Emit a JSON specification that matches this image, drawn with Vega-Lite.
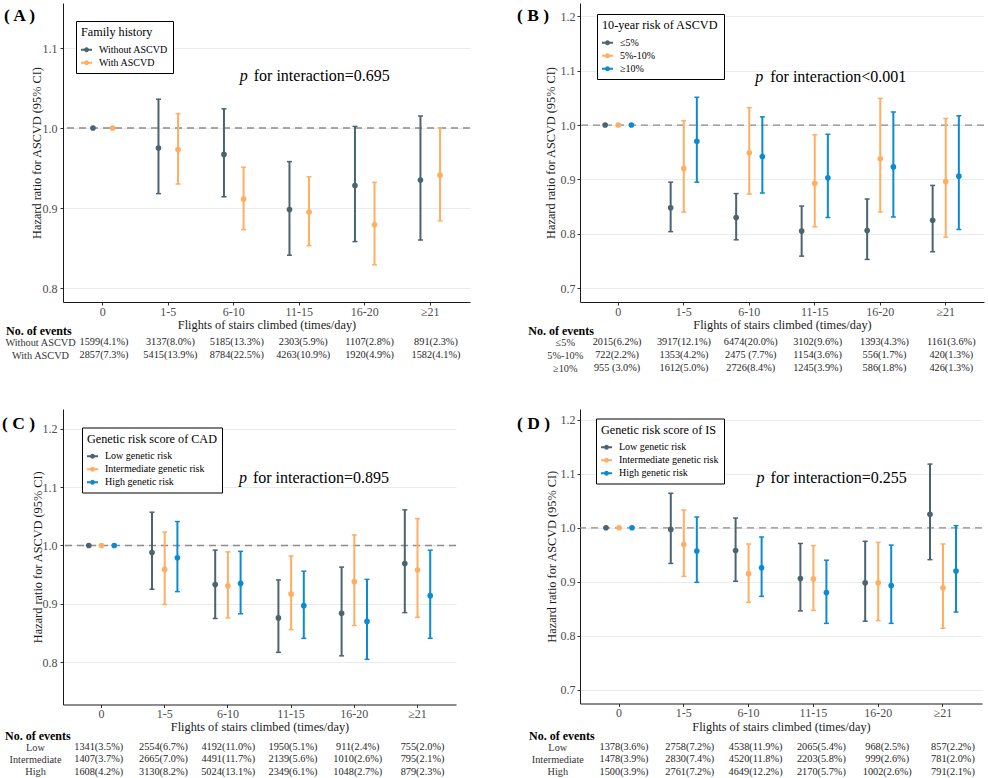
{
  "$schema": "https://vega.github.io/schema/vega-lite/v6.json",
  "autosize": "none",
  "padding": {"left": 63, "top": 3, "right": 925, "bottom": 775},
  "background": "white",
  "datasets": {
    "a": [
      {"cat": "0", "grp": "Without ASCVD", "hr": 1.0},
      {"cat": "0", "grp": "With ASCVD", "hr": 1.0},
      {"cat": "1-5", "grp": "Without ASCVD", "hr": 0.975, "lo": 0.918, "hi": 1.036},
      {"cat": "6-10", "grp": "Without ASCVD", "hr": 0.967, "lo": 0.914, "hi": 1.024},
      {"cat": "11-15", "grp": "Without ASCVD", "hr": 0.898, "lo": 0.841, "hi": 0.958},
      {"cat": "16-20", "grp": "Without ASCVD", "hr": 0.928, "lo": 0.858, "hi": 1.002},
      {"cat": "≥21", "grp": "Without ASCVD", "hr": 0.935, "lo": 0.860, "hi": 1.015},
      {"cat": "1-5", "grp": "With ASCVD", "hr": 0.973, "lo": 0.930, "hi": 1.018},
      {"cat": "6-10", "grp": "With ASCVD", "hr": 0.911, "lo": 0.873, "hi": 0.951},
      {"cat": "11-15", "grp": "With ASCVD", "hr": 0.895, "lo": 0.853, "hi": 0.939},
      {"cat": "16-20", "grp": "With ASCVD", "hr": 0.879, "lo": 0.829, "hi": 0.932},
      {"cat": "≥21", "grp": "With ASCVD", "hr": 0.941, "lo": 0.884, "hi": 1.000}
    ],
    "b": [
      {"cat": "0", "grp": "≤5%", "hr": 1.0},
      {"cat": "0", "grp": "5%-10%", "hr": 1.0},
      {"cat": "0", "grp": "≥10%", "hr": 1.0},
      {"cat": "1-5", "grp": "≤5%", "hr": 0.848, "lo": 0.804, "hi": 0.895},
      {"cat": "6-10", "grp": "≤5%", "hr": 0.830, "lo": 0.789, "hi": 0.874},
      {"cat": "11-15", "grp": "≤5%", "hr": 0.805, "lo": 0.759, "hi": 0.851},
      {"cat": "16-20", "grp": "≤5%", "hr": 0.806, "lo": 0.753, "hi": 0.864},
      {"cat": "≥21", "grp": "≤5%", "hr": 0.825, "lo": 0.767, "hi": 0.889},
      {"cat": "1-5", "grp": "5%-10%", "hr": 0.920, "lo": 0.840, "hi": 1.008},
      {"cat": "6-10", "grp": "5%-10%", "hr": 0.949, "lo": 0.873, "hi": 1.032},
      {"cat": "11-15", "grp": "5%-10%", "hr": 0.893, "lo": 0.813, "hi": 0.982},
      {"cat": "16-20", "grp": "5%-10%", "hr": 0.938, "lo": 0.840, "hi": 1.049},
      {"cat": "≥21", "grp": "5%-10%", "hr": 0.896, "lo": 0.794, "hi": 1.012},
      {"cat": "1-5", "grp": "≥10%", "hr": 0.970, "lo": 0.895, "hi": 1.051},
      {"cat": "6-10", "grp": "≥10%", "hr": 0.942, "lo": 0.875, "hi": 1.015},
      {"cat": "11-15", "grp": "≥10%", "hr": 0.903, "lo": 0.830, "hi": 0.983},
      {"cat": "16-20", "grp": "≥10%", "hr": 0.923, "lo": 0.831, "hi": 1.024},
      {"cat": "≥21", "grp": "≥10%", "hr": 0.906, "lo": 0.808, "hi": 1.017}
    ],
    "c": [
      {"cat": "0", "grp": "Low genetic risk", "hr": 1.0},
      {"cat": "0", "grp": "Intermediate genetic risk", "hr": 1.0},
      {"cat": "0", "grp": "High genetic risk", "hr": 1.0},
      {"cat": "1-5", "grp": "Low genetic risk", "hr": 0.988, "lo": 0.925, "hi": 1.057},
      {"cat": "6-10", "grp": "Low genetic risk", "hr": 0.933, "lo": 0.875, "hi": 0.992},
      {"cat": "11-15", "grp": "Low genetic risk", "hr": 0.876, "lo": 0.817, "hi": 0.941},
      {"cat": "16-20", "grp": "Low genetic risk", "hr": 0.884, "lo": 0.811, "hi": 0.963},
      {"cat": "≥21", "grp": "Low genetic risk", "hr": 0.969, "lo": 0.885, "hi": 1.061},
      {"cat": "1-5", "grp": "Intermediate genetic risk", "hr": 0.959, "lo": 0.899, "hi": 1.023},
      {"cat": "6-10", "grp": "Intermediate genetic risk", "hr": 0.931, "lo": 0.876, "hi": 0.989},
      {"cat": "11-15", "grp": "Intermediate genetic risk", "hr": 0.917, "lo": 0.856, "hi": 0.982},
      {"cat": "16-20", "grp": "Intermediate genetic risk", "hr": 0.938, "lo": 0.863, "hi": 1.018},
      {"cat": "≥21", "grp": "Intermediate genetic risk", "hr": 0.958, "lo": 0.877, "hi": 1.046},
      {"cat": "1-5", "grp": "High genetic risk", "hr": 0.979, "lo": 0.921, "hi": 1.041},
      {"cat": "6-10", "grp": "High genetic risk", "hr": 0.935, "lo": 0.883, "hi": 0.990},
      {"cat": "11-15", "grp": "High genetic risk", "hr": 0.897, "lo": 0.841, "hi": 0.956},
      {"cat": "16-20", "grp": "High genetic risk", "hr": 0.870, "lo": 0.805, "hi": 0.942},
      {"cat": "≥21", "grp": "High genetic risk", "hr": 0.914, "lo": 0.841, "hi": 0.992}
    ],
    "d": [
      {"cat": "0", "grp": "Low genetic risk", "hr": 1.0},
      {"cat": "0", "grp": "Intermediate genetic risk", "hr": 1.0},
      {"cat": "0", "grp": "High genetic risk", "hr": 1.0},
      {"cat": "1-5", "grp": "Low genetic risk", "hr": 0.997, "lo": 0.934, "hi": 1.064},
      {"cat": "6-10", "grp": "Low genetic risk", "hr": 0.958, "lo": 0.901, "hi": 1.018},
      {"cat": "11-15", "grp": "Low genetic risk", "hr": 0.906, "lo": 0.846, "hi": 0.971},
      {"cat": "16-20", "grp": "Low genetic risk", "hr": 0.898, "lo": 0.827, "hi": 0.975},
      {"cat": "≥21", "grp": "Low genetic risk", "hr": 1.025, "lo": 0.941, "hi": 1.118},
      {"cat": "1-5", "grp": "Intermediate genetic risk", "hr": 0.969, "lo": 0.910, "hi": 1.033},
      {"cat": "6-10", "grp": "Intermediate genetic risk", "hr": 0.915, "lo": 0.862, "hi": 0.970},
      {"cat": "11-15", "grp": "Intermediate genetic risk", "hr": 0.905, "lo": 0.847, "hi": 0.967},
      {"cat": "16-20", "grp": "Intermediate genetic risk", "hr": 0.898, "lo": 0.828, "hi": 0.973},
      {"cat": "≥21", "grp": "Intermediate genetic risk", "hr": 0.889, "lo": 0.814, "hi": 0.970},
      {"cat": "1-5", "grp": "High genetic risk", "hr": 0.957, "lo": 0.899, "hi": 1.020},
      {"cat": "6-10", "grp": "High genetic risk", "hr": 0.926, "lo": 0.873, "hi": 0.983},
      {"cat": "11-15", "grp": "High genetic risk", "hr": 0.880, "lo": 0.823, "hi": 0.940},
      {"cat": "16-20", "grp": "High genetic risk", "hr": 0.893, "lo": 0.823, "hi": 0.968},
      {"cat": "≥21", "grp": "High genetic risk", "hr": 0.920, "lo": 0.844, "hi": 1.004}
    ],
    "ta": [
      {"row": "Without ASCVD", "cat": "0", "txt": "1599(4.1%)"},
      {"row": "Without ASCVD", "cat": "1-5", "txt": "3137(8.0%)"},
      {"row": "Without ASCVD", "cat": "6-10", "txt": "5185(13.3%)"},
      {"row": "Without ASCVD", "cat": "11-15", "txt": "2303(5.9%)"},
      {"row": "Without ASCVD", "cat": "16-20", "txt": "1107(2.8%)"},
      {"row": "Without ASCVD", "cat": "≥21", "txt": "891(2.3%)"},
      {"row": "With ASCVD", "cat": "0", "txt": "2857(7.3%)"},
      {"row": "With ASCVD", "cat": "1-5", "txt": "5415(13.9%)"},
      {"row": "With ASCVD", "cat": "6-10", "txt": "8784(22.5%)"},
      {"row": "With ASCVD", "cat": "11-15", "txt": "4263(10.9%)"},
      {"row": "With ASCVD", "cat": "16-20", "txt": "1920(4.9%)"},
      {"row": "With ASCVD", "cat": "≥21", "txt": "1582(4.1%)"}
    ],
    "tb": [
      {"row": "≤5%", "cat": "0", "txt": "2015(6.2%)"},
      {"row": "≤5%", "cat": "1-5", "txt": "3917(12.1%)"},
      {"row": "≤5%", "cat": "6-10", "txt": "6474(20.0%)"},
      {"row": "≤5%", "cat": "11-15", "txt": "3102(9.6%)"},
      {"row": "≤5%", "cat": "16-20", "txt": "1393(4.3%)"},
      {"row": "≤5%", "cat": "≥21", "txt": "1161(3.6%)"},
      {"row": "5%-10%", "cat": "0", "txt": "722(2.2%)"},
      {"row": "5%-10%", "cat": "1-5", "txt": "1353(4.2%)"},
      {"row": "5%-10%", "cat": "6-10", "txt": "2475 (7.7%)"},
      {"row": "5%-10%", "cat": "11-15", "txt": "1154(3.6%)"},
      {"row": "5%-10%", "cat": "16-20", "txt": "556(1.7%)"},
      {"row": "5%-10%", "cat": "≥21", "txt": "420(1.3%)"},
      {"row": "≥10%", "cat": "0", "txt": "955 (3.0%)"},
      {"row": "≥10%", "cat": "1-5", "txt": "1612(5.0%)"},
      {"row": "≥10%", "cat": "6-10", "txt": "2726(8.4%)"},
      {"row": "≥10%", "cat": "11-15", "txt": "1245(3.9%)"},
      {"row": "≥10%", "cat": "16-20", "txt": "586(1.8%)"},
      {"row": "≥10%", "cat": "≥21", "txt": "426(1.3%)"}
    ],
    "tc": [
      {"row": "Low", "cat": "0", "txt": "1341(3.5%)"},
      {"row": "Low", "cat": "1-5", "txt": "2554(6.7%)"},
      {"row": "Low", "cat": "6-10", "txt": "4192(11.0%)"},
      {"row": "Low", "cat": "11-15", "txt": "1950(5.1%)"},
      {"row": "Low", "cat": "16-20", "txt": "911(2.4%)"},
      {"row": "Low", "cat": "≥21", "txt": "755(2.0%)"},
      {"row": "Intermediate", "cat": "0", "txt": "1407(3.7%)"},
      {"row": "Intermediate", "cat": "1-5", "txt": "2665(7.0%)"},
      {"row": "Intermediate", "cat": "6-10", "txt": "4491(11.7%)"},
      {"row": "Intermediate", "cat": "11-15", "txt": "2139(5.6%)"},
      {"row": "Intermediate", "cat": "16-20", "txt": "1010(2.6%)"},
      {"row": "Intermediate", "cat": "≥21", "txt": "795(2.1%)"},
      {"row": "High", "cat": "0", "txt": "1608(4.2%)"},
      {"row": "High", "cat": "1-5", "txt": "3130(8.2%)"},
      {"row": "High", "cat": "6-10", "txt": "5024(13.1%)"},
      {"row": "High", "cat": "11-15", "txt": "2349(6.1%)"},
      {"row": "High", "cat": "16-20", "txt": "1048(2.7%)"},
      {"row": "High", "cat": "≥21", "txt": "879(2.3%)"}
    ],
    "td": [
      {"row": "Low", "cat": "0", "txt": "1378(3.6%)"},
      {"row": "Low", "cat": "1-5", "txt": "2758(7.2%)"},
      {"row": "Low", "cat": "6-10", "txt": "4538(11.9%)"},
      {"row": "Low", "cat": "11-15", "txt": "2065(5.4%)"},
      {"row": "Low", "cat": "16-20", "txt": "968(2.5%)"},
      {"row": "Low", "cat": "≥21", "txt": "857(2.2%)"},
      {"row": "Intermediate", "cat": "0", "txt": "1478(3.9%)"},
      {"row": "Intermediate", "cat": "1-5", "txt": "2830(7.4%)"},
      {"row": "Intermediate", "cat": "6-10", "txt": "4520(11.8%)"},
      {"row": "Intermediate", "cat": "11-15", "txt": "2203(5.8%)"},
      {"row": "Intermediate", "cat": "16-20", "txt": "999(2.6%)"},
      {"row": "Intermediate", "cat": "≥21", "txt": "781(2.0%)"},
      {"row": "High", "cat": "0", "txt": "1500(3.9%)"},
      {"row": "High", "cat": "1-5", "txt": "2761(7.2%)"},
      {"row": "High", "cat": "6-10", "txt": "4649(12.2%)"},
      {"row": "High", "cat": "11-15", "txt": "2170(5.7%)"},
      {"row": "High", "cat": "16-20", "txt": "1002(2.6%)"},
      {"row": "High", "cat": "≥21", "txt": "791(2.1%)"}
    ]
  },
  "bounds": "flush",
  "align": "each",
  "columns": 2,
  "spacing": {"row": 34, "column": 103},
  "resolve": {"scale": {"x": "independent", "y": "independent", "xOffset": "independent", "color": "independent"}, "legend": {"color": "independent"}},
  "concat": [
    {
      "width": 407,
      "height": 299,
      "title": {"text": "( A )", "dx": -59, "dy": 25.5},
      "data": {"name": "a"},
      "layer": [
        {
          "data": {"values": [{"ref": 1}]},
          "mark": {"type": "rule", "color": "#8c8c8c", "strokeDash": [7, 5], "strokeWidth": 1.3},
          "encoding": {
            "y": {"field": "ref", "type": "quantitative", "title": "Hazard ratio for ASCVD (95% CI)",
              "scale": {"domain": [0.7825, 1.15625], "nice": false, "zero": false},
              "axis": {"values": [0.8, 0.9, 1.0, 1.1], "format": ".1f", "titleX": -27, "labelFont": "Liberation Serif", "titleFont": "Liberation Serif"}}
          }
        },
        {
          "mark": {"type": "circle", "size": 32, "opacity": 1},
          "encoding": {
            "x": {"field": "cat", "type": "nominal", "sort": null, "title": "Flights of stairs climbed (times/day)",
              "scale": {"domain": ["0", "1-5", "6-10", "11-15", "16-20", "≥21"], "paddingInner": 0, "paddingOuter": 0.107},
              "axis": {"titleY": 22, "labelFont": "Liberation Serif", "titleFont": "Liberation Serif"}},
            "xOffset": {"field": "grp", "type": "nominal", "sort": null, "scale": {"domain": ["Without ASCVD", "With ASCVD"], "paddingInner": 0, "paddingOuter": 0.673}},
            "y": {"field": "hr", "type": "quantitative", "title": "Hazard ratio for ASCVD (95% CI)", "scale": {"domain": [0.7825, 1.15625], "nice": false, "zero": false}},
            "color": {"field": "grp", "type": "nominal", "sort": null,
              "scale": {"domain": ["Without ASCVD", "With ASCVD"], "range": ["#4b6470", "#ffae62"]},
              "legend": {"title": "Family history", "legendX": 13, "legendY": 18}}
          }
        },
        {
          "mark": {"type": "rule", "strokeWidth": 2},
          "encoding": {
            "x": {"field": "cat", "type": "nominal", "sort": null, "title": "Flights of stairs climbed (times/day)"},
            "xOffset": {"field": "grp", "type": "nominal", "sort": null},
            "y": {"field": "lo", "type": "quantitative", "title": "Hazard ratio for ASCVD (95% CI)"},
            "y2": {"field": "hi"},
            "color": {"field": "grp", "type": "nominal", "sort": null}
          }
        },
        {
          "mark": {"type": "tick", "size": 5, "thickness": 1.5, "opacity": 1},
          "encoding": {
            "x": {"field": "cat", "type": "nominal", "sort": null, "title": "Flights of stairs climbed (times/day)"},
            "xOffset": {"field": "grp", "type": "nominal", "sort": null},
            "y": {"field": "lo", "type": "quantitative", "title": "Hazard ratio for ASCVD (95% CI)"},
            "color": {"field": "grp", "type": "nominal", "sort": null}
          }
        },
        {
          "mark": {"type": "tick", "size": 5, "thickness": 1.5, "opacity": 1},
          "encoding": {
            "x": {"field": "cat", "type": "nominal", "sort": null, "title": "Flights of stairs climbed (times/day)"},
            "xOffset": {"field": "grp", "type": "nominal", "sort": null},
            "y": {"field": "hi", "type": "quantitative", "title": "Hazard ratio for ASCVD (95% CI)"},
            "color": {"field": "grp", "type": "nominal", "sort": null}
          }
        },
        {
          "data": {"values": [{"cat": "6-10", "y": 1.065, "p": "p", "rest": "for interaction=0.695"}]},
          "mark": {"type": "text", "align": "left", "baseline": "middle", "font": "Liberation Serif", "fontSize": 16, "fontStyle": "italic", "dx": 6, "color": "black"},
          "encoding": {
            "x": {"field": "cat", "type": "nominal", "sort": null, "title": "Flights of stairs climbed (times/day)"},
            "y": {"field": "y", "type": "quantitative", "title": "Hazard ratio for ASCVD (95% CI)"},
            "text": {"field": "p"}
          }
        },
        {
          "data": {"values": [{"cat": "6-10", "y": 1.065, "p": "p", "rest": "for interaction=0.695"}]},
          "mark": {"type": "text", "align": "left", "baseline": "middle", "font": "Liberation Serif", "fontSize": 16, "dx": 20, "color": "black"},
          "encoding": {
            "x": {"field": "cat", "type": "nominal", "sort": null, "title": "Flights of stairs climbed (times/day)"},
            "y": {"field": "y", "type": "quantitative", "title": "Hazard ratio for ASCVD (95% CI)"},
            "text": {"field": "rest"}
          }
        }
      ]
    },
    {
      "width": 404,
      "height": 299,
      "title": {"text": "( B )", "dx": -63, "dy": 25.5},
      "data": {"name": "b"},
      "layer": [
        {
          "data": {"values": [{"ref": 1}]},
          "mark": {"type": "rule", "color": "#8c8c8c", "strokeDash": [7, 5], "strokeWidth": 1.3},
          "encoding": {
            "y": {"field": "ref", "type": "quantitative", "title": "Hazard ratio for ASCVD (95% CI)",
              "scale": {"domain": [0.6747, 1.2243], "nice": false, "zero": false},
              "axis": {"values": [0.7, 0.8, 0.9, 1.0, 1.1, 1.2], "format": ".1f", "titleX": -29.3, "labelPadding": 2, "labelFont": "Liberation Serif", "titleFont": "Liberation Serif"}}
          }
        },
        {
          "mark": {"type": "circle", "size": 32, "opacity": 1},
          "encoding": {
            "x": {"field": "cat", "type": "nominal", "sort": null, "title": "Flights of stairs climbed (times/day)",
              "scale": {"domain": ["0", "1-5", "6-10", "11-15", "16-20", "≥21"], "paddingInner": 0, "paddingOuter": 0.084},
              "axis": {"titleY": 22, "labelFont": "Liberation Serif", "titleFont": "Liberation Serif"}},
            "xOffset": {"field": "grp", "type": "nominal", "sort": null, "scale": {"domain": ["≤5%", "5%-10%", "≥10%"], "paddingInner": 0, "paddingOuter": 1.02}},
            "y": {"field": "hr", "type": "quantitative", "title": "Hazard ratio for ASCVD (95% CI)", "scale": {"domain": [0.6747, 1.2243], "nice": false, "zero": false}},
            "color": {"field": "grp", "type": "nominal", "sort": null,
              "scale": {"domain": ["≤5%", "5%-10%", "≥10%"], "range": ["#4b6470", "#ffae62", "#0b8bd1"]},
              "legend": {"title": "10-year risk of ASCVD", "legendX": 17, "legendY": 11}}
          }
        },
        {
          "mark": {"type": "rule", "strokeWidth": 2},
          "encoding": {
            "x": {"field": "cat", "type": "nominal", "sort": null, "title": "Flights of stairs climbed (times/day)"},
            "xOffset": {"field": "grp", "type": "nominal", "sort": null},
            "y": {"field": "lo", "type": "quantitative", "title": "Hazard ratio for ASCVD (95% CI)"},
            "y2": {"field": "hi"},
            "color": {"field": "grp", "type": "nominal", "sort": null}
          }
        },
        {
          "mark": {"type": "tick", "size": 5, "thickness": 1.5, "opacity": 1},
          "encoding": {
            "x": {"field": "cat", "type": "nominal", "sort": null, "title": "Flights of stairs climbed (times/day)"},
            "xOffset": {"field": "grp", "type": "nominal", "sort": null},
            "y": {"field": "lo", "type": "quantitative", "title": "Hazard ratio for ASCVD (95% CI)"},
            "color": {"field": "grp", "type": "nominal", "sort": null}
          }
        },
        {
          "mark": {"type": "tick", "size": 5, "thickness": 1.5, "opacity": 1},
          "encoding": {
            "x": {"field": "cat", "type": "nominal", "sort": null, "title": "Flights of stairs climbed (times/day)"},
            "xOffset": {"field": "grp", "type": "nominal", "sort": null},
            "y": {"field": "hi", "type": "quantitative", "title": "Hazard ratio for ASCVD (95% CI)"},
            "color": {"field": "grp", "type": "nominal", "sort": null}
          }
        },
        {
          "data": {"values": [{"cat": "6-10", "y": 1.088, "p": "p", "rest": "for interaction<0.001"}]},
          "mark": {"type": "text", "align": "left", "baseline": "middle", "font": "Liberation Serif", "fontSize": 16, "fontStyle": "italic", "dx": 6, "color": "black"},
          "encoding": {
            "x": {"field": "cat", "type": "nominal", "sort": null, "title": "Flights of stairs climbed (times/day)"},
            "y": {"field": "y", "type": "quantitative", "title": "Hazard ratio for ASCVD (95% CI)"},
            "text": {"field": "p"}
          }
        },
        {
          "data": {"values": [{"cat": "6-10", "y": 1.088, "p": "p", "rest": "for interaction<0.001"}]},
          "mark": {"type": "text", "align": "left", "baseline": "middle", "font": "Liberation Serif", "fontSize": 16, "dx": 21, "color": "black"},
          "encoding": {
            "x": {"field": "cat", "type": "nominal", "sort": null, "title": "Flights of stairs climbed (times/day)"},
            "y": {"field": "y", "type": "quantitative", "title": "Hazard ratio for ASCVD (95% CI)"},
            "text": {"field": "rest"}
          }
        }
      ]
    },
    {
      "width": 414,
      "height": 25.4,
      "data": {"name": "ta"},
      "title": {"text": "No. of events", "fontSize": 12, "dx": -57, "dy": 6},
      "mark": {"type": "text", "font": "Liberation Serif", "fontSize": 10.3, "color": "#262626"},
      "encoding": {
        "x": {"field": "cat", "type": "nominal", "sort": null, "axis": null,
          "scale": {"type": "point", "domain": ["0", "1-5", "6-10", "11-15", "16-20", "≥21"], "padding": 0.6175}},
        "y": {"field": "row", "type": "nominal", "sort": null, "title": null,
          "scale": {"type": "point", "domain": ["Without ASCVD", "With ASCVD"], "padding": 0.5},
          "axis": {"domain": false, "ticks": false, "tickSize": 0, "grid": false, "labelPadding": 23, "labelAlign": "center", "labelFont": "Liberation Serif", "labelFontSize": 10.3, "labelColor": "#333333"}},
        "text": {"field": "txt"}
      }
    },
    {
      "width": 408.4,
      "height": 38.6,
      "data": {"name": "tb"},
      "title": {"text": "No. of events", "fontSize": 12, "dx": -51.7, "dy": 6},
      "mark": {"type": "text", "font": "Liberation Serif", "fontSize": 10.3, "color": "#262626"},
      "encoding": {
        "x": {"field": "cat", "type": "nominal", "sort": null, "axis": null,
          "scale": {"type": "point", "domain": ["0", "1-5", "6-10", "11-15", "16-20", "≥21"], "padding": 0.555}},
        "y": {"field": "row", "type": "nominal", "sort": null, "title": null,
          "scale": {"type": "point", "domain": ["≤5%", "5%-10%", "≥10%"], "padding": 0.5},
          "axis": {"domain": false, "ticks": false, "tickSize": 0, "grid": false, "labelPadding": 15.2, "labelAlign": "center", "labelFont": "Liberation Serif", "labelFontSize": 10.3, "labelColor": "#333333"}},
        "text": {"field": "txt"}
      }
    },
    {
      "width": 393,
      "height": 295.5,
      "title": {"text": "( C )", "dx": -61, "dy": 27.5},
      "data": {"name": "c"},
      "layer": [
        {
          "data": {"values": [{"ref": 1}]},
          "mark": {"type": "rule", "color": "#8c8c8c", "strokeDash": [7, 5], "strokeWidth": 1.3},
          "encoding": {
            "y": {"field": "ref", "type": "quantitative", "title": "Hazard ratio for ASCVD (95% CI)",
              "scale": {"domain": [0.7277, 1.2337], "nice": false, "zero": false},
              "axis": {"values": [0.8, 0.9, 1.0, 1.1, 1.2], "format": ".1f", "titleX": -26, "labelFont": "Liberation Serif", "titleFont": "Liberation Serif"}}
          }
        },
        {
          "mark": {"type": "circle", "size": 32, "opacity": 1},
          "encoding": {
            "x": {"field": "cat", "type": "nominal", "sort": null, "title": "Flights of stairs climbed (times/day)",
              "scale": {"domain": ["0", "1-5", "6-10", "11-15", "16-20", "≥21"], "paddingInner": 0, "paddingOuter": 0.109},
              "axis": {"titleY": 22, "labelFont": "Liberation Serif", "titleFont": "Liberation Serif"}},
            "xOffset": {"field": "grp", "type": "nominal", "sort": null, "scale": {"domain": ["Low genetic risk", "Intermediate genetic risk", "High genetic risk"], "paddingInner": 0, "paddingOuter": 0.988}},
            "y": {"field": "hr", "type": "quantitative", "title": "Hazard ratio for ASCVD (95% CI)", "scale": {"domain": [0.7277, 1.2337], "nice": false, "zero": false}},
            "color": {"field": "grp", "type": "nominal", "sort": null,
              "scale": {"domain": ["Low genetic risk", "Intermediate genetic risk", "High genetic risk"], "range": ["#4b6470", "#ffae62", "#0b8bd1"]},
              "legend": {"title": "Genetic risk score of CAD", "legendX": 19, "legendY": 18.5}}
          }
        },
        {
          "mark": {"type": "rule", "strokeWidth": 2},
          "encoding": {
            "x": {"field": "cat", "type": "nominal", "sort": null, "title": "Flights of stairs climbed (times/day)"},
            "xOffset": {"field": "grp", "type": "nominal", "sort": null},
            "y": {"field": "lo", "type": "quantitative", "title": "Hazard ratio for ASCVD (95% CI)"},
            "y2": {"field": "hi"},
            "color": {"field": "grp", "type": "nominal", "sort": null}
          }
        },
        {
          "mark": {"type": "tick", "size": 5, "thickness": 1.5, "opacity": 1},
          "encoding": {
            "x": {"field": "cat", "type": "nominal", "sort": null, "title": "Flights of stairs climbed (times/day)"},
            "xOffset": {"field": "grp", "type": "nominal", "sort": null},
            "y": {"field": "lo", "type": "quantitative", "title": "Hazard ratio for ASCVD (95% CI)"},
            "color": {"field": "grp", "type": "nominal", "sort": null}
          }
        },
        {
          "mark": {"type": "tick", "size": 5, "thickness": 1.5, "opacity": 1},
          "encoding": {
            "x": {"field": "cat", "type": "nominal", "sort": null, "title": "Flights of stairs climbed (times/day)"},
            "xOffset": {"field": "grp", "type": "nominal", "sort": null},
            "y": {"field": "hi", "type": "quantitative", "title": "Hazard ratio for ASCVD (95% CI)"},
            "color": {"field": "grp", "type": "nominal", "sort": null}
          }
        },
        {
          "data": {"values": [{"cat": "6-10", "y": 1.115, "p": "p", "rest": "for interaction=0.895"}]},
          "mark": {"type": "text", "align": "left", "baseline": "middle", "font": "Liberation Serif", "fontSize": 16, "fontStyle": "italic", "dx": 11, "color": "black"},
          "encoding": {
            "x": {"field": "cat", "type": "nominal", "sort": null, "title": "Flights of stairs climbed (times/day)"},
            "y": {"field": "y", "type": "quantitative", "title": "Hazard ratio for ASCVD (95% CI)"},
            "text": {"field": "p"}
          }
        },
        {
          "data": {"values": [{"cat": "6-10", "y": 1.115, "p": "p", "rest": "for interaction=0.895"}]},
          "mark": {"type": "text", "align": "left", "baseline": "middle", "font": "Liberation Serif", "fontSize": 16, "dx": 25, "color": "black"},
          "encoding": {
            "x": {"field": "cat", "type": "nominal", "sort": null, "title": "Flights of stairs climbed (times/day)"},
            "y": {"field": "y", "type": "quantitative", "title": "Hazard ratio for ASCVD (95% CI)"},
            "text": {"field": "rest"}
          }
        }
      ]
    },
    {
      "width": 402,
      "height": 294.5,
      "title": {"text": "( D )", "dx": -63, "dy": 27.5},
      "data": {"name": "d"},
      "layer": [
        {
          "data": {"values": [{"ref": 1}]},
          "mark": {"type": "rule", "color": "#8c8c8c", "strokeDash": [7, 5], "strokeWidth": 1.3},
          "encoding": {
            "y": {"field": "ref", "type": "quantitative", "title": "Hazard ratio for ASCVD (95% CI)",
              "scale": {"domain": [0.6746, 1.22], "nice": false, "zero": false},
              "axis": {"values": [0.7, 0.8, 0.9, 1.0, 1.1, 1.2], "format": ".1f", "titleX": -28.7, "labelPadding": 2, "labelFont": "Liberation Serif", "titleFont": "Liberation Serif"}}
          }
        },
        {
          "mark": {"type": "circle", "size": 32, "opacity": 1},
          "encoding": {
            "x": {"field": "cat", "type": "nominal", "sort": null, "title": "Flights of stairs climbed (times/day)",
              "scale": {"domain": ["0", "1-5", "6-10", "11-15", "16-20", "≥21"], "paddingInner": 0, "paddingOuter": 0.102},
              "axis": {"titleY": 22.5, "labelFont": "Liberation Serif", "titleFont": "Liberation Serif"}},
            "xOffset": {"field": "grp", "type": "nominal", "sort": null, "scale": {"domain": ["Low genetic risk", "Intermediate genetic risk", "High genetic risk"], "paddingInner": 0, "paddingOuter": 0.99}},
            "y": {"field": "hr", "type": "quantitative", "title": "Hazard ratio for ASCVD (95% CI)", "scale": {"domain": [0.6746, 1.22], "nice": false, "zero": false}},
            "color": {"field": "grp", "type": "nominal", "sort": null,
              "scale": {"domain": ["Low genetic risk", "Intermediate genetic risk", "High genetic risk"], "range": ["#4b6470", "#ffae62", "#0b8bd1"]},
              "legend": {"title": "Genetic risk score of IS", "legendX": 16, "legendY": 9.5}}
          }
        },
        {
          "mark": {"type": "rule", "strokeWidth": 2},
          "encoding": {
            "x": {"field": "cat", "type": "nominal", "sort": null, "title": "Flights of stairs climbed (times/day)"},
            "xOffset": {"field": "grp", "type": "nominal", "sort": null},
            "y": {"field": "lo", "type": "quantitative", "title": "Hazard ratio for ASCVD (95% CI)"},
            "y2": {"field": "hi"},
            "color": {"field": "grp", "type": "nominal", "sort": null}
          }
        },
        {
          "mark": {"type": "tick", "size": 5, "thickness": 1.5, "opacity": 1},
          "encoding": {
            "x": {"field": "cat", "type": "nominal", "sort": null, "title": "Flights of stairs climbed (times/day)"},
            "xOffset": {"field": "grp", "type": "nominal", "sort": null},
            "y": {"field": "lo", "type": "quantitative", "title": "Hazard ratio for ASCVD (95% CI)"},
            "color": {"field": "grp", "type": "nominal", "sort": null}
          }
        },
        {
          "mark": {"type": "tick", "size": 5, "thickness": 1.5, "opacity": 1},
          "encoding": {
            "x": {"field": "cat", "type": "nominal", "sort": null, "title": "Flights of stairs climbed (times/day)"},
            "xOffset": {"field": "grp", "type": "nominal", "sort": null},
            "y": {"field": "hi", "type": "quantitative", "title": "Hazard ratio for ASCVD (95% CI)"},
            "color": {"field": "grp", "type": "nominal", "sort": null}
          }
        },
        {
          "data": {"values": [{"cat": "6-10", "y": 1.093, "p": "p", "rest": "for interaction=0.255"}]},
          "mark": {"type": "text", "align": "left", "baseline": "middle", "font": "Liberation Serif", "fontSize": 16, "fontStyle": "italic", "dx": 8, "color": "black"},
          "encoding": {
            "x": {"field": "cat", "type": "nominal", "sort": null, "title": "Flights of stairs climbed (times/day)"},
            "y": {"field": "y", "type": "quantitative", "title": "Hazard ratio for ASCVD (95% CI)"},
            "text": {"field": "p"}
          }
        },
        {
          "data": {"values": [{"cat": "6-10", "y": 1.093, "p": "p", "rest": "for interaction=0.255"}]},
          "mark": {"type": "text", "align": "left", "baseline": "middle", "font": "Liberation Serif", "fontSize": 16, "dx": 22, "color": "black"},
          "encoding": {
            "x": {"field": "cat", "type": "nominal", "sort": null, "title": "Flights of stairs climbed (times/day)"},
            "y": {"field": "y", "type": "quantitative", "title": "Hazard ratio for ASCVD (95% CI)"},
            "text": {"field": "rest"}
          }
        }
      ]
    },
    {
      "width": 395.2,
      "height": 40.7,
      "data": {"name": "tc"},
      "title": {"text": "No. of events", "fontSize": 12, "dx": -58, "dy": 8},
      "mark": {"type": "text", "font": "Liberation Serif", "fontSize": 10.3, "color": "#262626"},
      "encoding": {
        "x": {"field": "cat", "type": "nominal", "sort": null, "axis": null,
          "scale": {"type": "point", "domain": ["0", "1-5", "6-10", "11-15", "16-20", "≥21"], "padding": 0.551}},
        "y": {"field": "row", "type": "nominal", "sort": null, "title": null,
          "scale": {"type": "point", "domain": ["Low", "Intermediate", "High"], "padding": 0.648},
          "axis": {"domain": false, "ticks": false, "tickSize": 0, "grid": false, "labelPadding": 28, "labelAlign": "center", "labelFont": "Liberation Serif", "labelFontSize": 10.3, "labelColor": "#333333"}},
        "text": {"field": "txt"}
      }
    },
    {
      "width": 417,
      "height": 40.7,
      "data": {"name": "td"},
      "title": {"text": "No. of events", "fontSize": 12, "dx": -51, "dy": 8},
      "mark": {"type": "text", "font": "Liberation Serif", "fontSize": 10.3, "color": "#262626"},
      "encoding": {
        "x": {"field": "cat", "type": "nominal", "sort": null, "axis": null,
          "scale": {"type": "point", "domain": ["0", "1-5", "6-10", "11-15", "16-20", "≥21"], "padding": 0.669}},
        "y": {"field": "row", "type": "nominal", "sort": null, "title": null,
          "scale": {"type": "point", "domain": ["Low", "Intermediate", "High"], "padding": 0.648},
          "axis": {"domain": false, "ticks": false, "tickSize": 0, "grid": false, "labelPadding": 22.7, "labelAlign": "center", "labelFont": "Liberation Serif", "labelFontSize": 10.3, "labelColor": "#333333"}},
        "text": {"field": "txt"}
      }
    }
  ],
  "config": {
    "font": "Liberation Serif",
    "view": {"stroke": null},
    "style": {
      "guide-label": {"font": "Liberation Serif"},
      "guide-title": {"font": "Liberation Serif"},
      "group-title": {"font": "Liberation Serif"}
    },
    "title": {"anchor": "start", "frame": "group", "offset": 0, "baseline": "middle", "font": "Liberation Serif", "fontSize": 17.5, "fontWeight": "bold", "color": "black"},
    "text": {"font": "Liberation Serif"},
    "axis": {
      "labelFont": "Liberation Serif", "titleFont": "Liberation Serif",
      "labelColor": "#4d4d4d", "titleColor": "#1a1a1a", "titleFontWeight": "normal",
      "labelFontSize": 12, "titleFontSize": 12.3,
      "domainColor": "#1a1a1a", "domainWidth": 1, "tickColor": "#333333", "tickSize": 3,
      "gridColor": "#ebebeb", "gridWidth": 1
    },
    "axisX": {"grid": false, "labelAngle": 0, "labelPadding": 1, "titleBaseline": "middle"},
    "axisY": {"grid": true, "labelPadding": 3, "titleBaseline": "middle", "titleAlign": "center"},
    "legend": {
      "orient": "none",
      "titleFont": "Liberation Serif", "labelFont": "Liberation Serif",
      "titleFontSize": 12.2, "titleFontWeight": "normal", "titleColor": "black", "titlePadding": 6,
      "labelFontSize": 10, "labelColor": "black", "labelOffset": 7,
      "symbolType": "M-1,-0.18H1V0.18H-1Z M0.45,0A0.45,0.45,0,1,1,-0.45,0A0.45,0.45,0,1,1,0.45,0Z",
      "symbolSize": 121, "symbolStrokeWidth": 0, "symbolOpacity": 1,
      "rowPadding": 2, "padding": 5,
      "strokeColor": "black", "fillColor": "white"
    }
  }
}
